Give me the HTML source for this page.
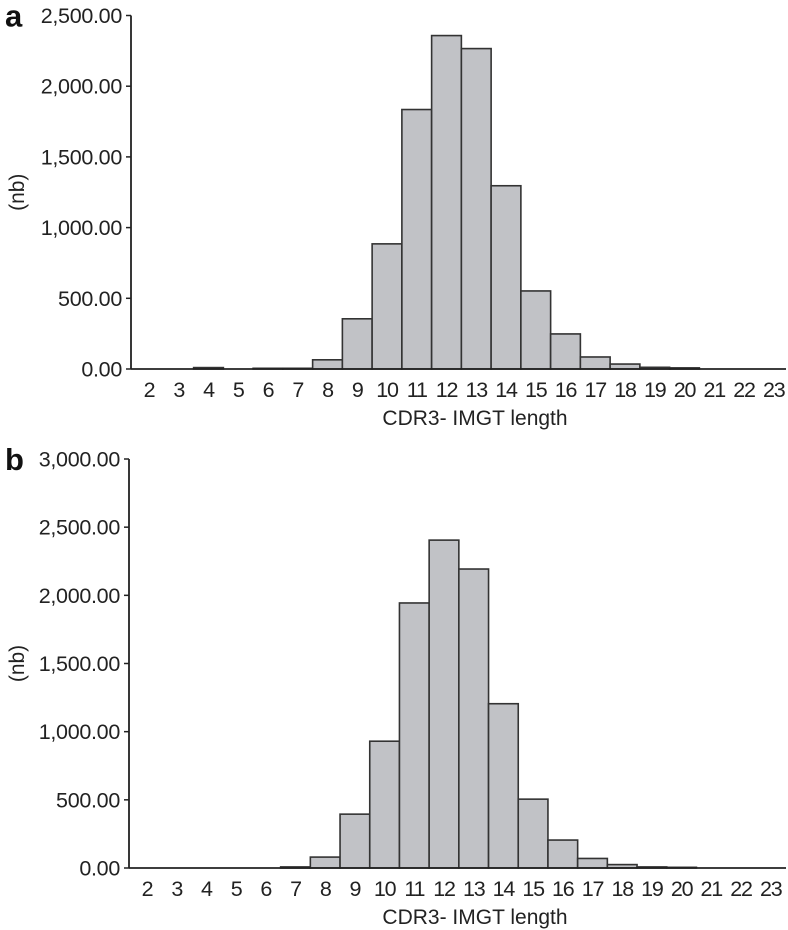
<!DOCTYPE html>
<html><head><meta charset="utf-8"><style>
html,body{margin:0;padding:0;background:#fff;}
svg{display:block;font-family:"Liberation Sans",sans-serif;}
</style></head><body>
<svg id="chart" width="788" height="930" viewBox="0 0 788 930" xmlns="http://www.w3.org/2000/svg"></svg>
<script>
const categories = [2,3,4,5,6,7,8,9,10,11,12,13,14,15,16,17,18,19,20,21,22,23];
const seriesA = [0,0,10,0,5,5,65,355,885,1835,2358,2266,1296,552,248,85,35,12,8,0,0,0];
const seriesB = [0,0,0,0,0,8,80,395,930,1944,2405,2193,1205,505,205,70,25,8,5,0,0,0];
const ticksA = [0,500,1000,1500,2000,2500];
const ticksB = [0,500,1000,1500,2000,2500,3000];
const tickLabelsA = ["0.00","500.00","1,000.00","1,500.00","2,000.00","2,500.00"];
const tickLabelsB = ["0.00","500.00","1,000.00","1,500.00","2,000.00","2,500.00","3,000.00"];

const NS = "http://www.w3.org/2000/svg";
const svg = document.getElementById('chart');
function mk(tag, attrs, parent){
  const e = document.createElementNS(NS, tag);
  for (const k in attrs) e.setAttribute(k, attrs[k]);
  parent.appendChild(e);
  return e;
}

function panel(cfg){
  const g = mk('g', {}, svg);
  
  
  const yMax = cfg.ticks[cfg.ticks.length-1];
  const yScale = v => cfg.y0 - v / yMax * (cfg.y0 - cfg.yTop);
  const xScale = c => cfg.x0 + (c - categories[0]) * cfg.step;

  categories.forEach((c, i) => {
    const v = cfg.values[i];
    if (v <= 0) return;
    const x = xScale(c) - cfg.step/2;
    const y = yScale(v);
    const r = mk('rect', {x: x, y: y, width: cfg.step, height: cfg.y0 - y, fill: '#c1c2c6', stroke: '#333', 'stroke-width': 1.6}, g);
    
    
  });

  const ya = mk('line', {x1: cfg.ax, y1: cfg.yTop, x2: cfg.ax, y2: cfg.y0, stroke: '#222', 'stroke-width': 1.8}, g);
  
  
  cfg.ticks.forEach((t, i) => {
    const y = yScale(t);
    mk('line', {x1: cfg.ax - 5, y1: y, x2: cfg.ax, y2: y, stroke: '#222', 'stroke-width': 1.5}, g);
    const tx = mk('text', {x: cfg.ax - 9, y: y + 7.5, 'font-size': 21.5, 'text-anchor': 'end', fill: '#222', 'letter-spacing': '-0.3'}, g);
    tx.textContent = cfg.tickLabels[i];
    
    
  });

  const xa = mk('line', {x1: cfg.ax, y1: cfg.y0, x2: 786, y2: cfg.y0, stroke: '#222', 'stroke-width': 1.8}, g);
  
  
  categories.forEach(c => {
    const t = mk('text', {x: xScale(c), y: cfg.y0 + 28, 'font-size': 21.5, 'text-anchor': 'middle', fill: '#222', 'letter-spacing': '-1.2'}, g);
    t.textContent = String(c);
    
    
  });

  const xt = mk('text', {x: 475, y: cfg.y0 + 56, 'font-size': 21, 'text-anchor': 'middle', fill: '#222'}, g);
  xt.textContent = 'CDR3- IMGT length';
  
  

  const yt = mk('text', {x: 0, y: 0, 'font-size': 21, 'text-anchor': 'middle', fill: '#222', transform: 'translate(24,' + ((cfg.y0 + cfg.yTop)/2) + ') rotate(-90)'}, g);
  yt.textContent = '(nb)';
  
  

  const pl = mk('text', {x: 5, y: cfg.yTop + 11, 'font-size': 31, 'font-weight': 'bold', fill: '#111'}, g);
  pl.textContent = cfg.letter;
  
  
}

panel({name: 'panel-a', letter: 'a', values: seriesA, ticks: ticksA, tickLabels: tickLabelsA,
  ax: 131, y0: 369, yTop: 15.5, x0: 149, step: 29.75});
panel({name: 'panel-b', letter: 'b', values: seriesB, ticks: ticksB, tickLabels: tickLabelsB,
  ax: 129, y0: 868, yTop: 459, x0: 147, step: 29.7});
</script>
</body></html>
